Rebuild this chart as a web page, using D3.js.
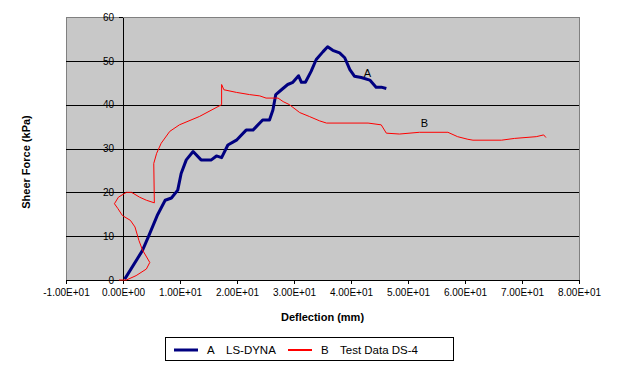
<!DOCTYPE html>
<meta charset="utf-8">
<head>
    <style>
        body, html {
            margin: 0;
            background: white;
            font-family: "Liberation Sans", Arial, sans-serif;
        }
        .axis text {
            font-size: 10px;
            font-family: "Liberation Sans", Arial, sans-serif;
            fill: black;
        }
        .axis path, .axis line {
            stroke: black;
            shape-rendering: crispEdges;
        }
    </style>
    <script src="https://cdn.jsdelivr.net/npm/d3@7"></script>
</head>
<body>
<div id="chart"></div>

<script>
    // series A: LS-DYNA
    var aX = [0.3, 3.4, 4.5, 6.0, 7.4, 8.5, 9.6, 10.2, 11.1, 12.3, 13.7, 15.5, 16.4, 17.3, 18.4, 19.9,
        21.6, 22.8, 24.5, 25.7, 26.3, 26.8, 27.8, 28.9, 29.8, 30.8, 31.3, 32.0, 33.0, 33.9, 35.1, 35.9,
        36.8, 38.0, 38.9, 39.8, 40.6, 41.8, 43.3, 44.4, 45.3, 46.2];
    var aY = [0.2, 6.7, 10.0, 14.7, 18.2, 18.7, 20.5, 24.3, 27.4, 29.3, 27.4, 27.4, 28.3, 27.9, 30.8, 31.9,
        34.2, 34.2, 36.5, 36.5, 38.8, 42.3, 43.4, 44.6, 45.1, 46.6, 45.1, 45.1, 47.6, 50.3, 52.1, 53.2,
        52.4, 51.8, 50.7, 48.0, 46.5, 46.2, 45.6, 44.0, 44.0, 43.7];

    // series B: test data DS-4
    var bX = [-0.7, 0.6, 2.3, 4.1, 4.7, 3.4, 2.8, 2.1, 1.3, -0.1, -0.9, -1.5, -0.8, 0.6, 1.5, 2.9, 4.1, 5.5,
        5.4, 5.9, 6.7, 8.2, 9.9, 13.4, 17.3, 17.3, 17.7, 19.9, 22.2, 24.0, 25.1, 27.2, 28.1, 29.2, 31.0,
        32.7, 34.5, 35.7, 43.0, 45.3, 46.2, 48.5, 52.0, 57.0, 58.7, 60.5, 61.4, 66.4, 68.7, 72.5, 73.8, 74.2];
    var bY = [0, 0, 1.0, 2.5, 4.0, 6.9, 9.0, 12.1, 13.6, 14.7, 16.3, 17.4, 18.9, 20.0, 20.0, 18.9, 18.2, 17.6,
        26.6, 28.9, 31.2, 33.9, 35.4, 37.3, 40.0, 44.6, 43.4, 42.8, 42.3, 42.0, 41.5, 41.5, 40.7, 40.0, 38.2,
        37.3, 36.3, 35.8, 35.8, 35.4, 33.5, 33.3, 33.7, 33.7, 32.7, 32.1, 31.9, 31.9, 32.3, 32.7, 33.1, 32.5];

    var xTicks = [-10, 0, 10, 20, 30, 40, 50, 60, 70, 80];
    var yTicks = [0, 10, 20, 30, 40, 50, 60];
    var seriesNames = ["A", "B"];
    var seriesLabels = ["LS-DYNA", "Test Data DS-4"];
    var seriesColors = ["#000080", "#ff0000"];

    var svgWidth = 622, svgHeight = 365;
    var plot = {left: 66, right: 579, top: 17, bottom: 280};

    var svg = d3.select("#chart").append("svg")
        .attr("width", svgWidth)
        .attr("height", svgHeight);

    var x = d3.scaleLinear().domain([-10, 80]).range([plot.left, plot.right]);
    var y = d3.scaleLinear().domain([0, 60]).range([plot.bottom, plot.top]);

    function sciFormat(v) {
        var parts = v.toExponential(2).split("e");
        var exp = parseInt(parts[1], 10);
        var sign = exp < 0 ? "-" : "+";
        var e = Math.abs(exp);
        return parts[0] + "E" + sign + (e < 10 ? "0" + e : e);
    }

    // plot area
    svg.append("rect")
        .attr("x", plot.left)
        .attr("y", plot.top)
        .attr("width", plot.right - plot.left)
        .attr("height", plot.bottom - plot.top)
        .attr("fill", "#c8c8c8")
        .attr("stroke", "#808080")
        .attr("shape-rendering", "crispEdges");

    // gridlines
    svg.append("g").selectAll("line")
        .data(yTicks.filter(function(d){return d > 0 && d < 60}))
        .enter().append("line")
        .attr("x1", plot.left)
        .attr("x2", plot.right)
        .attr("y1", function(d){return Math.round(y(d)) + 0.5})
        .attr("y2", function(d){return Math.round(y(d)) + 0.5})
        .attr("stroke", "black");

    // x axis
    var xAxis = svg.append("g")
        .attr("class", "axis")
        .attr("transform", "translate(0," + plot.bottom + ")")
        .call(d3.axisBottom(x).tickValues(xTicks).tickFormat(sciFormat).tickSizeInner(4).tickSizeOuter(0).tickPadding(5));
    xAxis.select(".domain").remove();
    xAxis.append("line")
        .attr("x1", plot.left).attr("x2", plot.right + 1)
        .attr("y1", 0.5).attr("y2", 0.5)
        .attr("stroke", "black");

    // y axis at x = 0
    var yAxis = svg.append("g")
        .attr("class", "axis")
        .attr("transform", "translate(" + Math.round(x(0)) + ",0)")
        .call(d3.axisLeft(y).tickValues(yTicks).tickSizeInner(4).tickSizeOuter(0).tickPadding(5));

    // series lines
    var line = d3.line()
        .x(function(d){return x(d[0])})
        .y(function(d){return y(d[1])});

    var seriesData = [d3.zip(aX, aY), d3.zip(bX, bY)];
    var seriesWidths = [3, 1];

    svg.append("g").selectAll("path")
        .data(seriesData)
        .enter().append("path")
        .attr("d", line)
        .attr("fill", "none")
        .attr("stroke", function(d, i){return seriesColors[i]})
        .attr("stroke-width", function(d, i){return seriesWidths[i]})
        .attr("stroke-linejoin", "round");

    // series labels
    var labelPos = [[42.9, 47.3], [52.9, 35.8]];
    svg.append("g").selectAll("text")
        .data(labelPos)
        .enter().append("text")
        .attr("x", function(d){return x(d[0])})
        .attr("y", function(d){return y(d[1]) + 4})
        .attr("text-anchor", "middle")
        .attr("font-size", "11px")
        .text(function(d, i){return seriesNames[i]});

    // axis titles
    svg.append("text")
        .attr("x", (plot.left + plot.right) / 2)
        .attr("y", 321)
        .attr("text-anchor", "middle")
        .attr("font-size", "11px")
        .attr("font-weight", "bold")
        .text("Deflection (mm)");

    svg.append("text")
        .attr("transform", "translate(30,162) rotate(-90)")
        .attr("text-anchor", "middle")
        .attr("font-size", "11px")
        .attr("font-weight", "bold")
        .text("Sheer Force (kPa)");

    // legend
    var legend = svg.append("g");
    legend.append("rect")
        .attr("x", 165.5).attr("y", 337.5)
        .attr("width", 288).attr("height", 23)
        .attr("fill", "white")
        .attr("stroke", "black");

    var legendX = [174, 288];
    var item = legend.selectAll(".item")
        .data(seriesNames)
        .enter().append("g")
        .attr("class", "item")
        .attr("transform", function(d, i){return "translate(" + legendX[i] + ",350)"});
    item.append("line")
        .attr("x1", 0).attr("x2", 24)
        .attr("stroke", function(d, i){return seriesColors[i]})
        .attr("stroke-width", function(d, i){return seriesWidths[i] === 3 ? 3 : 2});
    item.append("text")
        .attr("x", 33).attr("y", 4)
        .attr("font-size", "11.5px")
        .text(function(d){return d});
    item.append("text")
        .attr("x", function(d, i){return i === 0 ? 52 : 52})
        .attr("y", 4)
        .attr("font-size", "11.5px")
        .text(function(d, i){return seriesLabels[i]});
</script>
</body>
